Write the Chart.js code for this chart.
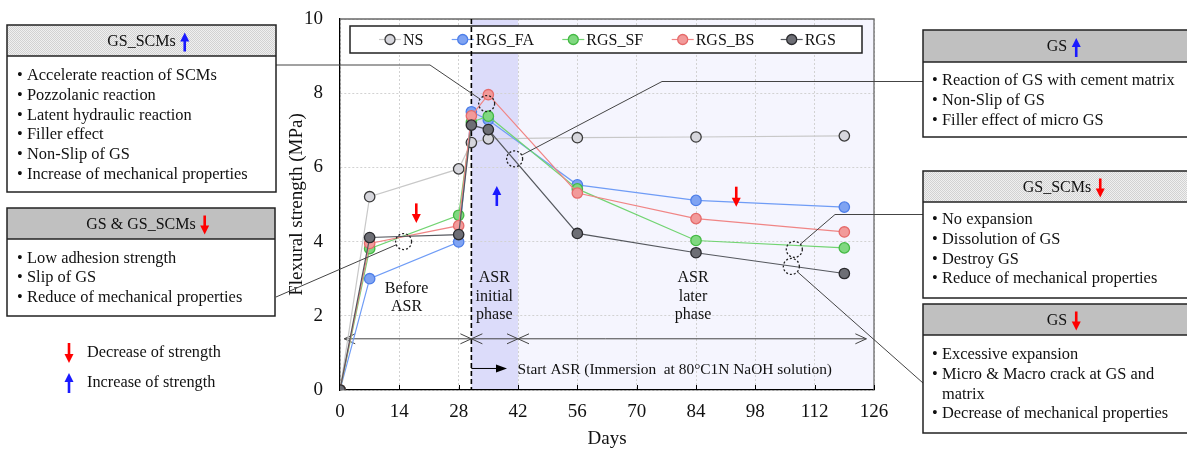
<!DOCTYPE html>
<html>
<head>
<meta charset="utf-8">
<script src="https://cdn.jsdelivr.net/npm/chart.js@4"></script>
<style>
  body { margin: 0; background: #fff; }
</style>
</head>
<body>
<canvas id="strengthChart" width="1187" height="450"></canvas>
<script>
// flexural strength over days
const days = [0, 7, 28, 31, 35, 56, 84, 119];
const seriesNames = ['NS', 'RGS_FA', 'RGS_SF', 'RGS_BS', 'RGS'];
const nsVals   = [0, 5.21, 5.96, 6.67, 6.77, 6.80, 6.82, 6.85];
const faVals   = [0, 3.00, 3.99, 7.50, 7.28, 5.53, 5.11, 4.93];
const sfVals   = [0, 3.81, 4.71, 7.22, 7.38, 5.42, 4.03, 3.83];
const bsVals   = [0, 3.95, 4.43, 7.39, 7.96, 5.31, 4.62, 4.26];
const rgsVals  = [0, 4.11, 4.19, 7.14, 7.02, 4.22, 3.70, 3.14];
const xTicks = [0, 14, 28, 42, 56, 70, 84, 98, 112, 126];
const yTicks = [0, 2, 4, 6, 8, 10];

// dotted circles marked on the plot [day, MPa]
const markCircles = [[34.6, 7.72], [41.2, 6.23], [15, 4.0], [107.2, 3.79], [106.5, 3.33]];

const SERIF = "'Liberation Serif', 'Times New Roman', serif";

const styles = [
  { line: '#c8c8c8', fill: '#d6d6dc', edge: '#3a3a3a' },
  { line: '#6f9cf6', fill: '#7fa3f2', edge: '#4d7ee8' },
  { line: '#72d472', fill: '#80d880', edge: '#44b944' },
  { line: '#f08585', fill: '#f29a9a', edge: '#e56a6a' },
  { line: '#55585e', fill: '#6d6e75', edge: '#2a2a2e' }
];
const allVals = [nsVals, faVals, sfVals, bsVals, rgsVals];

const datasets = seriesNames.map((name, i) => ({
  label: name,
  data: days.map((d, k) => ({ x: d, y: allVals[i][k] })),
  borderColor: styles[i].line,
  borderWidth: 1.2,
  pointRadius: 5.2,
  pointBackgroundColor: styles[i].fill,
  pointBorderColor: styles[i].edge,
  pointBorderWidth: 1.3,
  tension: 0,
  order: 5 - i
}));

function arrow(ctx, x, yTail, yTip, color) {
  const dir = yTip > yTail ? 1 : -1;
  ctx.save();
  ctx.strokeStyle = color;
  ctx.fillStyle = color;
  ctx.lineWidth = 2.6;
  ctx.beginPath();
  ctx.moveTo(x, yTail);
  ctx.lineTo(x, yTip - dir * 7);
  ctx.stroke();
  ctx.beginPath();
  ctx.moveTo(x, yTip);
  ctx.lineTo(x - 4.5, yTip - dir * 9);
  ctx.lineTo(x + 4.5, yTip - dir * 9);
  ctx.closePath();
  ctx.fill();
  ctx.restore();
}

function chevron(ctx, x, y, dir) {
  ctx.beginPath();
  ctx.moveTo(x - dir * 11, y - 5);
  ctx.lineTo(x, y);
  ctx.lineTo(x - dir * 11, y + 5);
  ctx.stroke();
}

let dotPattern = null;
function getPattern(ctx) {
  if (dotPattern) return dotPattern;
  const c = document.createElement('canvas');
  c.width = 2; c.height = 2;
  const p = c.getContext('2d');
  p.fillStyle = '#f0f0f0'; p.fillRect(0, 0, 2, 2);
  p.fillStyle = '#d2d2d2'; p.fillRect(0, 0, 1, 1); p.fillRect(1, 1, 1, 1);
  dotPattern = ctx.createPattern(c, 'repeat');
  return dotPattern;
}

// annotation boxes
const boxes = [
  { x: 7, y: 25, w: 269, h: 167, hh: 31, cx: 141.5, title: 'GS_SCMs', arrow: 'up', pattern: true, tx: 27,
    lines: ['Accelerate reaction of SCMs', 'Pozzolanic reaction', 'Latent hydraulic reaction', 'Filler effect', 'Non-Slip of GS', 'Increase of mechanical properties'], ly: 76 },
  { x: 7, y: 208, w: 268, h: 108, hh: 31, cx: 141, title: 'GS & GS_SCMs', arrow: 'down', pattern: false, tx: 27,
    lines: ['Low adhesion strength', 'Slip of GS', 'Reduce of mechanical properties'], ly: 258.5 },
  { x: 923, y: 30, w: 268, h: 107, hh: 32, cx: 1057, title: 'GS', arrow: 'up', pattern: false, tx: 942,
    lines: ['Reaction of GS with cement matrix', 'Non-Slip of GS', 'Filler effect of micro GS'], ly: 81 },
  { x: 923, y: 171, w: 268, h: 127, hh: 31, cx: 1057, title: 'GS_SCMs', arrow: 'down', pattern: true, tx: 942,
    lines: ['No expansion', 'Dissolution of GS', 'Destroy GS', 'Reduce of mechanical properties'], ly: 220 },
  { x: 923, y: 304, w: 268, h: 129, hh: 31, cx: 1057, title: 'GS', arrow: 'down', pattern: false, tx: 942,
    lines: ['Excessive expansion', 'Micro & Macro crack at GS and', '@matrix', 'Decrease of mechanical properties'], ly: 355 }
];

// connectors from boxes to dotted circles
const connectors = [
  { pts: [[276, 65], [430, 65]], c: 0 },
  { pts: [[923, 81.5], [662, 81.5]], c: 1 },
  { pts: [[276, 297]], c: 2 },
  { pts: [[923, 214.5], [835, 214.5]], c: 3 },
  { pts: [[923, 383]], c: 4 }
];

const annot = {
  id: 'annot',
  beforeDraw(chart) {
    const { ctx, chartArea: a, scales: { x } } = chart;
    const x31 = x.getPixelForValue(31), x42 = x.getPixelForValue(42);
    ctx.save();
    ctx.fillStyle = '#dcdcfa';
    ctx.fillRect(x31, a.top, x42 - x31, a.bottom - a.top);
    ctx.fillStyle = '#f5f5fe';
    ctx.fillRect(x42, a.top, a.right - x42, a.bottom - a.top);
    ctx.restore();
  },
  beforeDatasetsDraw(chart) {
    const { ctx, chartArea: a, scales: { x, y } } = chart;
    ctx.save();
    // top / right frame
    ctx.strokeStyle = '#6a6a6a';
    ctx.lineWidth = 1.3;
    ctx.beginPath();
    ctx.moveTo(a.left, a.top); ctx.lineTo(a.right, a.top); ctx.lineTo(a.right, a.bottom);
    ctx.stroke();
    // inside ticks on x axis
    ctx.strokeStyle = '#000';
    ctx.lineWidth = 1;
    xTicks.forEach(t => {
      const px = Math.round(x.getPixelForValue(t)) + 0.5;
      ctx.beginPath(); ctx.moveTo(px, a.bottom); ctx.lineTo(px, a.bottom - 5); ctx.stroke();
    });
    // legend
    ctx.fillStyle = '#fff';
    ctx.fillRect(350, 26, 512, 27);
    ctx.strokeStyle = '#222';
    ctx.lineWidth = 1.5;
    ctx.strokeRect(350, 26, 512, 27);
    const lx = [390, 462.7, 573.3, 682.7, 791.7];
    ctx.font = '16px ' + SERIF;
    ctx.textBaseline = 'middle';
    seriesNames.forEach((n, i) => {
      ctx.strokeStyle = styles[i].line;
      ctx.lineWidth = 1.2;
      ctx.beginPath(); ctx.moveTo(lx[i] - 11, 39.5); ctx.lineTo(lx[i] + 11, 39.5); ctx.stroke();
      ctx.beginPath(); ctx.arc(lx[i], 39.5, 5, 0, Math.PI * 2);
      ctx.fillStyle = styles[i].fill; ctx.fill();
      ctx.strokeStyle = styles[i].edge; ctx.lineWidth = 1.3; ctx.stroke();
      ctx.fillStyle = '#111';
      ctx.fillText(n, lx[i] + 13, 40.5);
    });
    // dashed start line
    const xd = x.getPixelForValue(31);
    ctx.strokeStyle = '#000';
    ctx.lineWidth = 1.6;
    ctx.setLineDash([5, 3]);
    ctx.beginPath(); ctx.moveTo(xd, a.top); ctx.lineTo(xd, a.bottom); ctx.stroke();
    ctx.setLineDash([]);
    // phase arrows
    const ya = y.getPixelForValue(1.38);
    const p1 = x.getPixelForValue(1), p42 = x.getPixelForValue(42), pEnd = x.getPixelForValue(124.2);
    ctx.strokeStyle = '#444';
    ctx.lineWidth = 1;
    ctx.beginPath(); ctx.moveTo(p1, ya); ctx.lineTo(pEnd, ya); ctx.stroke();
    chevron(ctx, p1, ya, -1); chevron(ctx, xd, ya, 1);
    chevron(ctx, xd, ya, -1); chevron(ctx, p42, ya, 1);
    chevron(ctx, p42, ya, -1); chevron(ctx, pEnd, ya, 1);
    // start ASR arrow
    const ys = y.getPixelForValue(0.58);
    const tip = x.getPixelForValue(39.4);
    ctx.strokeStyle = '#000';
    ctx.beginPath(); ctx.moveTo(xd, ys); ctx.lineTo(tip - 8, ys); ctx.stroke();
    ctx.fillStyle = '#000';
    ctx.beginPath(); ctx.moveTo(tip, ys); ctx.lineTo(tip - 11, ys - 4); ctx.lineTo(tip - 11, ys + 4); ctx.closePath(); ctx.fill();
    ctx.font = '15.4px ' + SERIF;
    ctx.fillStyle = '#111';
    ctx.textAlign = 'left';
    ctx.fillText('Start ASR (Immersion  at 80°C1N NaOH solution)', x.getPixelForValue(41.9), ys + 1);
    // phase labels
    ctx.font = '16px ' + SERIF;
    ctx.textAlign = 'center';
    const phase = [[15.7, ['Before', 'ASR'], [5.44, 4.93]], [36.4, ['ASR', 'initial', 'phase'], [5.73, 5.22, 4.72]], [83.3, ['ASR', 'later', 'phase'], [5.73, 5.22, 4.72]]];
    phase.forEach(([d, words, vs]) => {
      words.forEach((w, k) => ctx.fillText(w, x.getPixelForValue(d), y.getPixelForValue(vs[k] - 2.7)));
    });
    ctx.restore();
  },
  afterDraw(chart) {
    const { ctx, scales: { x, y } } = chart;
    ctx.save();
    // strength arrows in plot
    arrow(ctx, x.getPixelForValue(18), y.getPixelForValue(5.03), y.getPixelForValue(4.5), '#ff0000');
    arrow(ctx, x.getPixelForValue(93.5), y.getPixelForValue(5.48), y.getPixelForValue(4.94), '#ff0000');
    arrow(ctx, x.getPixelForValue(37), y.getPixelForValue(4.96), y.getPixelForValue(5.5), '#1a1aff');
    // dotted circles
    const cp = markCircles.map(([d, v]) => [x.getPixelForValue(d), y.getPixelForValue(v)]);
    ctx.strokeStyle = '#222';
    ctx.lineWidth = 1.3;
    ctx.setLineDash([2, 2]);
    cp.forEach(([cx, cy]) => { ctx.beginPath(); ctx.arc(cx, cy, 8, 0, Math.PI * 2); ctx.stroke(); });
    ctx.setLineDash([]);
    // connectors
    ctx.strokeStyle = '#444';
    ctx.lineWidth = 1;
    connectors.forEach(cn => {
      const [cx, cy] = cp[cn.c];
      const last = cn.pts[cn.pts.length - 1];
      const dx = last[0] - cx, dy = last[1] - cy, len = Math.hypot(dx, dy);
      ctx.beginPath();
      ctx.moveTo(cn.pts[0][0], cn.pts[0][1]);
      cn.pts.slice(1).forEach(p => ctx.lineTo(p[0], p[1]));
      ctx.lineTo(cx + dx / len * 8, cy + dy / len * 8);
      ctx.stroke();
    });
    // boxes
    boxes.forEach(b => {
      ctx.fillStyle = '#fff';
      ctx.fillRect(b.x, b.y, b.w, b.h);
      ctx.fillStyle = b.pattern ? getPattern(ctx) : '#c0c0c0';
      ctx.fillRect(b.x, b.y, b.w, b.hh);
      ctx.strokeStyle = '#222';
      ctx.lineWidth = 1.5;
      ctx.strokeRect(b.x, b.y, b.w, b.h);
      ctx.beginPath(); ctx.moveTo(b.x, b.y + b.hh); ctx.lineTo(b.x + b.w, b.y + b.hh); ctx.stroke();
      ctx.font = '16px ' + SERIF;
      ctx.fillStyle = '#111';
      ctx.textAlign = 'center';
      ctx.textBaseline = 'middle';
      const hy = b.y + b.hh / 2 + 1;
      ctx.fillText(b.title, b.cx, hy);
      const tw = ctx.measureText(b.title).width;
      const ax = b.cx + tw / 2 + 9;
      if (b.arrow === 'up') arrow(ctx, ax, hy + 10, hy - 9, '#1a1aff');
      else arrow(ctx, ax, hy - 9, hy + 10, '#ff0000');
      ctx.font = '16.4px ' + SERIF;
      ctx.textAlign = 'left';
      b.lines.forEach((ln, k) => {
        const ly = b.ly + k * 19.7;
        if (ln.startsWith('@')) { ctx.fillText(ln.slice(1), b.tx, ly); return; }
        ctx.fillText('•', b.tx - 10, ly);
        ctx.fillText(ln, b.tx, ly);
      });
    });
    // key at bottom left
    arrow(ctx, 69, 343, 363, '#ff0000');
    arrow(ctx, 69, 393, 373, '#1a1aff');
    ctx.font = '16.3px ' + SERIF;
    ctx.fillStyle = '#111';
    ctx.textAlign = 'left';
    ctx.textBaseline = 'middle';
    ctx.fillText('Decrease of strength', 87, 353);
    ctx.fillText('Increase of strength', 87, 383);
    ctx.restore();
  }
};

const ctx = document.getElementById('strengthChart').getContext('2d');
const strengthChart = new Chart(ctx, {
  type: 'line',
  data: { datasets: datasets },
  plugins: [annot],
  options: {
    responsive: false,
    animation: false,
    layout: { padding: { left: 275, right: 313, top: 19, bottom: 0 } },
    plugins: { legend: { display: false }, tooltip: { enabled: false } },
    scales: {
      x: {
        type: 'linear',
        min: 0, max: 126,
        afterBuildTicks: s => { s.ticks = xTicks.map(v => ({ value: v })); },
        afterFit: s => { s.height = 60; s.paddingLeft = 0; s.paddingRight = 0; },
        grid: { color: '#d2d2d2', lineWidth: 1, drawTicks: false },
        border: { color: '#000', width: 1.3, dash: [2, 2] },
        ticks: { color: '#111', padding: 11, font: { family: SERIF, size: 19 } },
        title: { display: true, text: 'Days', color: '#111', padding: { top: 0, bottom: 0 }, font: { family: SERIF, size: 19 } }
      },
      y: {
        min: 0, max: 10,
        afterBuildTicks: s => { s.ticks = yTicks.map(v => ({ value: v })); },
        afterFit: s => { s.width = 65; s.paddingTop = 0; s.paddingBottom = 0; },
        grid: { color: '#d2d2d2', lineWidth: 1, drawTicks: false },
        border: { color: '#000', width: 1.3, dash: [2, 2] },
        ticks: { color: '#111', padding: 17, font: { family: SERIF, size: 19 } },
        title: { display: true, text: 'Flexural strength (MPa)', color: '#111', padding: { top: 11, bottom: 0 }, font: { family: SERIF, size: 19 } }
      }
    }
  }
});
</script>
</body>
</html>
